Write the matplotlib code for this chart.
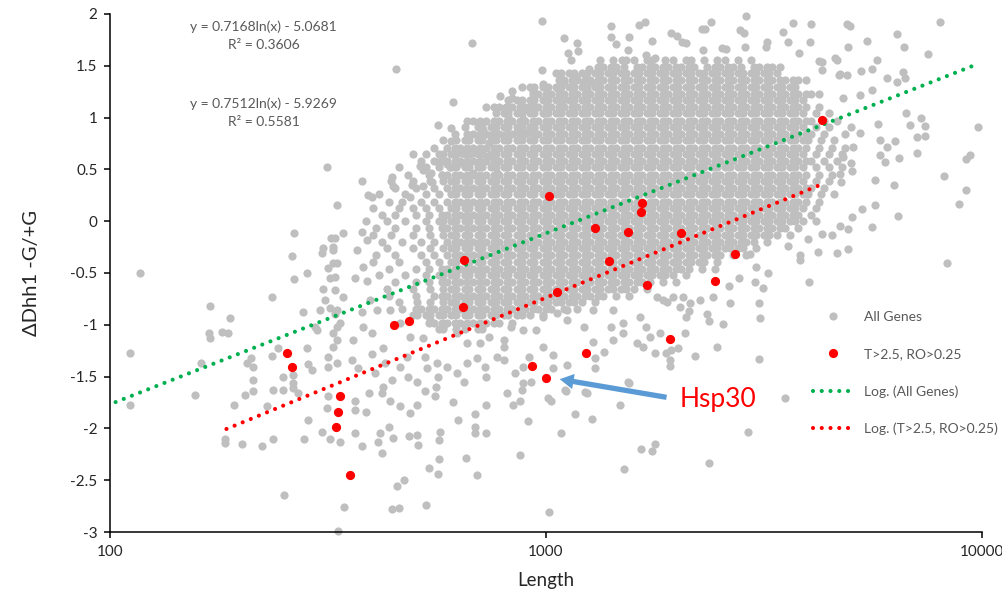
import numpy as np
import matplotlib
matplotlib.use("Agg")
import matplotlib.pyplot as plt
from matplotlib.lines import Line2D
from matplotlib.ticker import NullLocator

plt.rcParams['font.family'] = ['Lato', 'DejaVu Sans']

# ---- data ----
# dense core of "All Genes": one ratio level per row, lengths along that row
core_levels = [1.56, 1.49, 1.43, 1.36, 1.30, 1.23, 1.17, 1.10, 1.04, 0.97,
               0.91, 0.84, 0.78, 0.71, 0.65, 0.58, 0.52, 0.45, 0.39, 0.32,
               0.26, 0.19, 0.13, 0.06, 0.00, -0.07, -0.13, -0.20, -0.26, -0.33,
               -0.39, -0.46, -0.52, -0.59, -0.65, -0.72, -0.78, -0.85, -0.91, -0.98,
               -1.04]
core_lengths = [
    "1327 1422 1523 1590 1703 1748 1871 1954 2093 2147 2300 2463 2572 2755 2951",
    "1314 1352 1408 1449 1508 1615 1662 1730 1780 1852 1906 1985 2042 2125 2187 2343 2438 2509 2612 2688 2797 2996 3084 3210 3303 3438",
    "1053 1080 1128 1157 1208 1239 1294 1327 1386 1422 1485 1523 1590 1631 1703 1748 1824 1871 1954 2005 2093 2147 2241 2300 2401 2463 2572 2639 2755 2826 2951 3027 3161 3242 3385",
    "1069 1100 1145 1178 1227 1263 1314 1352 1408 1449 1508 1551 1615 1662 1730 1780 1852 1906 1985 2042 2125 2187 2277 2343 2438 2509 2612 2688 2797 2879 2996 3084 3210 3303 3438 3538 3683 3789 3945",
    "879 918 941 983 1008 1053 1080 1128 1157 1208 1239 1294 1327 1386 1422 1485 1523 1590 1631 1703 1748 1824 1871 1954 2005 2093 2147 2241 2300 2401 2463 2572 2639 2755 2826 2951 3027 3161 3242 3385 3474 3626 3721",
    "932 959 998 1027 1069 1100 1145 1178 1227 1263 1314 1352 1408 1449 1508 1551 1615 1662 1730 1780 1852 1906 1985 2042 2125 2187 2277 2343 2438 2509 2612 2688 2797 2879 2996 3084 3210 3303 3438 3538 3683 3789 3945 4059 4225",
    "820 857 879 918 941 983 1008 1053 1080 1128 1157 1208 1239 1294 1327 1386 1422 1485 1523 1590 1631 1703 1748 1824 1871 1954 2005 2093 2147 2241 2300 2401 2463 2572 2639 2755 2826 2951 3027 3161 3242 3385 3474 3626 3721 3884",
    "729 758 780 812 836 870 895 932 959 998 1027 1069 1100 1145 1178 1227 1263 1314 1352 1408 1449 1508 1551 1615 1662 1730 1780 1852 1906 1985 2042 2125 2187 2277 2343 2438 2509 2612 2688 2797 2879 2996 3084 3210 3303 3438 3538 3683 3789 3945 4225",
    "766 799 820 857 879 918 941 983 1008 1053 1080 1128 1157 1208 1239 1294 1327 1386 1422 1485 1523 1590 1631 1703 1748 1824 1871 1954 2005 2093 2147 2241 2300 2401 2463 2572 2639 2755 2826 2951 3027 3161 3242 3385 3474 3626 3721 3884 4160 4456",
    "660 680 707 729 758 780 812 836 870 895 932 959 998 1027 1069 1100 1145 1178 1227 1263 1314 1352 1408 1449 1508 1551 1615 1662 1730 1780 1852 1906 1985 2042 2125 2187 2277 2343 2438 2509 2612 2688 2797 2879 2996 3084 3210 3303 3438 3538 3683 3789 3945 4059 4347 4656",
    "651 697 715 747 766 799 820 857 879 918 941 983 1008 1053 1080 1128 1157 1208 1239 1294 1327 1386 1422 1485 1523 1590 1631 1703 1748 1824 1871 1954 2005 2093 2147 2241 2300 2401 2463 2572 2639 2755 2826 2951 3027 3161 3242 3385 3474 3626 3721 3884 4160 4456",
    "617 660 680 707 729 758 780 812 836 870 895 932 959 998 1027 1069 1100 1145 1178 1227 1263 1314 1352 1408 1449 1508 1551 1615 1662 1730 1780 1852 1906 1985 2042 2125 2187 2277 2343 2438 2509 2612 2688 2797 2879 2996 3084 3210 3303 3438 3538 3683 3789 3945 4059 4347 4847",
    "581 623 651 667 697 715 747 766 799 820 857 879 918 941 983 1008 1053 1080 1128 1157 1208 1239 1294 1327 1386 1422 1485 1523 1590 1631 1703 1748 1824 1871 1954 2005 2093 2147 2241 2300 2401 2463 2572 2639 2755 2826 2951 3027 3161 3242 3385 3474 3626 3721 3884 3985 4268 4572",
    "554 593 617 635 660 680 707 729 758 780 812 836 870 895 932 959 998 1027 1069 1100 1145 1178 1227 1263 1314 1352 1408 1449 1508 1551 1615 1662 1730 1780 1852 1906 1985 2042 2125 2187 2277 2343 2438 2509 2612 2688 2797 2879 2996 3084 3210 3303 3438 3538 3683 3789 3945 4225 4526 4847",
    "495 530 567 581 607 623 651 667 697 715 747 766 799 820 857 879 918 941 983 1008 1053 1080 1128 1157 1208 1239 1294 1327 1386 1422 1485 1523 1590 1631 1703 1748 1824 1871 1954 2005 2093 2147 2241 2300 2401 2463 2572 2639 2755 2826 2951 3027 3161 3242 3385 3474 3626 3721 3884 4160 4456 4773",
    "517 554 576 593 617 635 660 680 707 729 758 780 812 836 870 895 932 959 998 1027 1069 1100 1145 1178 1227 1263 1314 1352 1408 1449 1508 1551 1615 1662 1730 1780 1852 1906 1985 2042 2125 2187 2277 2343 2438 2509 2612 2688 2797 2879 2996 3084 3210 3303 3438 3538 3683 3789 3945 4059 4347 4656",
    "461 530 567 607 623 651 667 697 715 747 766 799 820 857 879 918 941 983 1008 1053 1080 1128 1157 1208 1239 1294 1327 1386 1422 1485 1523 1590 1631 1703 1748 1824 1871 1954 2005 2093 2147 2241 2300 2401 2463 2572 2639 2755 2826 2951 3027 3161 3242 3385 3474 3626 3721 3884 4160 4456 4773",
    "482 538 576 593 617 635 660 680 707 729 758 780 812 836 870 895 932 959 998 1027 1069 1100 1145 1178 1227 1263 1314 1352 1408 1449 1508 1551 1615 1662 1730 1780 1852 1906 1985 2042 2125 2187 2277 2343 2438 2509 2612 2688 2797 2879 2996 3084 3210 3303 3438 3538 3683 3789 3945 4225 4526",
    "442 495 543 581 607 623 651 667 697 715 747 766 799 820 857 879 918 941 983 1008 1053 1080 1128 1157 1208 1239 1294 1327 1386 1422 1485 1523 1590 1631 1703 1748 1824 1871 1954 2005 2093 2147 2241 2300 2401 2463 2572 2639 2755 2826 2951 3027 3161 3242 3385 3474 3626 3721 3884 4160 4456",
    "451 502 554 593 617 635 660 680 707 729 758 780 812 836 870 895 932 959 998 1027 1069 1100 1145 1178 1227 1263 1314 1352 1408 1449 1508 1551 1615 1662 1730 1780 1852 1906 1985 2042 2125 2187 2277 2343 2438 2509 2612 2688 2797 2879 2996 3084 3210 3303 3438 3538 3683 3789 3945 4059 4347",
    "413 474 530 567 607 623 651 667 697 715 747 766 799 820 857 879 918 941 983 1008 1053 1080 1128 1157 1208 1239 1294 1327 1386 1422 1485 1523 1590 1631 1703 1748 1824 1871 1954 2005 2093 2147 2241 2300 2401 2463 2572 2639 2755 2826 2951 3027 3161 3242 3385 3474 3626 3721 3884 3985 4268 4572",
    "437 468 517 554 593 617 635 660 680 707 729 758 780 812 836 870 895 932 959 998 1027 1069 1100 1145 1178 1227 1263 1314 1352 1408 1449 1508 1551 1615 1662 1730 1780 1852 1906 1985 2042 2125 2187 2277 2343 2438 2509 2612 2688 2797 2879 2996 3084 3210 3303 3438 3538 3683 3789 3945 4225",
    "402 461 495 530 567 607 623 651 667 697 715 747 766 799 820 857 879 918 941 983 1008 1053 1080 1128 1157 1208 1239 1294 1327 1386 1422 1485 1523 1590 1631 1703 1748 1824 1871 1954 2005 2093 2147 2241 2300 2401 2463 2572 2639 2755 2826 2951 3027 3161 3242 3385 3474 3626 3721 3884 4160",
    "420 451 502 538 576 593 617 635 660 680 707 729 758 780 812 836 870 895 932 959 998 1027 1069 1100 1145 1178 1227 1263 1314 1352 1408 1449 1508 1551 1615 1662 1730 1780 1852 1906 1985 2042 2125 2187 2277 2343 2438 2509 2612 2688 2797 2879 2996 3084 3210 3303 3438 3538 3683 3789 4059",
    "386 431 474 530 567 581 607 623 651 667 697 715 747 766 799 820 857 879 918 941 983 1008 1053 1080 1128 1157 1208 1239 1294 1327 1386 1422 1485 1523 1590 1631 1703 1748 1824 1871 1954 2005 2093 2147 2241 2300 2401 2463 2572 2639 2755 2826 2951 3027 3161 3242 3385 3474 3626 3721 3884 4160",
    "408 451 502 538 576 593 617 635 660 680 707 729 758 780 812 836 870 895 932 959 998 1027 1069 1100 1145 1178 1227 1263 1314 1352 1408 1449 1508 1551 1615 1662 1730 1780 1852 1906 1985 2042 2125 2187 2277 2343 2438 2509 2612 2688 2797 2879 2996 3084 3210 3303 3438 3538 3789",
    "402 442 495 543 581 607 623 651 667 697 715 747 766 799 820 857 879 918 941 983 1008 1053 1080 1128 1157 1208 1239 1294 1327 1386 1422 1485 1523 1590 1631 1703 1748 1824 1871 1954 2005 2093 2147 2241 2300 2401 2463 2572 2639 2755 2826 2951 3027 3161 3242 3385 3626",
    "420 468 517 554 593 617 635 660 680 707 729 758 780 812 836 870 895 932 959 998 1027 1069 1100 1145 1178 1227 1263 1314 1352 1408 1449 1508 1551 1615 1662 1730 1780 1852 1906 1985 2042 2125 2187 2277 2343 2438 2509 2612 2688 2797 2879 2996 3210",
    "431 495 543 581 607 623 651 667 697 715 747 766 799 820 857 879 918 941 983 1008 1053 1080 1128 1157 1208 1239 1294 1327 1386 1422 1485 1523 1590 1631 1703 1748 1824 1871 1954 2005 2093 2147 2241 2300 2401 2463 2572 2639 2755 2826 3027",
    "408 451 517 554 593 617 635 660 680 707 729 758 780 812 836 870 895 932 959 998 1027 1069 1100 1145 1178 1227 1263 1314 1352 1408 1449 1508 1551 1615 1662 1730 1780 1852 1906 1985 2042 2125 2187 2277 2343 2438 2509 2688 2879",
    "402 461 530 567 607 623 651 667 697 715 747 766 799 820 857 879 918 941 983 1008 1053 1080 1128 1157 1208 1239 1294 1327 1386 1422 1485 1523 1590 1631 1703 1748 1824 1871 1954 2005 2093 2147 2241 2300 2463",
    "437 502 538 576 593 617 635 660 680 707 729 758 780 812 836 870 895 932 959 998 1027 1069 1100 1145 1178 1227 1263 1314 1352 1408 1449 1508 1551 1615 1662 1730 1780 1852 1906 1985 2042 2125 2277 2438",
    "413 474 530 567 581 607 623 651 667 697 715 747 766 799 820 857 879 918 941 983 1008 1053 1080 1128 1157 1208 1239 1294 1327 1386 1422 1485 1523 1590 1631 1703 1748 1824 1871 1954 2093",
    "451 502 538 576 593 617 635 660 680 707 729 758 780 812 836 870 895 932 959 998 1027 1069 1100 1145 1178 1227 1263 1314 1352 1408 1449 1508 1551 1615 1662 1730 1852 1985",
    "431 495 543 581 607 623 651 667 697 715 747 766 799 820 857 879 918 941 983 1008 1053 1080 1128 1157 1208 1239 1294 1327 1386 1422 1485 1523 1590 1703",
    "437 502 554 576 593 617 635 660 680 707 729 758 780 812 836 870 895 932 959 998 1027 1069 1100 1145 1178 1227 1263 1314 1352 1449 1551",
    "461 507 543 581 607 623 651 667 697 715 747 766 799 820 857 879 918 941 983 1008 1053 1080 1128 1157 1208 1294",
    "468 502 517 538 554 576 593 617 635 660 680 707 729 758 780 812 836 870 895 932 959 998 1027 1100 1178",
    "495 507 530 543 567 581 607 623 651 667 697 715 747 766 799 820 857 879 918 983",
    "538 554 576 593 617 635 660 680 707 729 758 780 836",
    "567 581 623 651 697 715",
]

# scattered "All Genes" points outside the dense core: (length, ratio)
spread_pts = [
    (315, 0.52), (332, 0.16), (264, -0.11), (261, -0.34), (264, -0.56), (283, -0.50),
    (117, -0.50), (111, -1.27), (235, -0.73), (170, -0.82), (169, -1.08), (170, -1.13),
    (181, -1.07), (186, -1.08), (188, -0.93), (162, -1.37), (206, -1.37), (211, -1.32),
    (213, -1.41), (213, -1.53), (235, -1.30), (243, -1.22), (249, -1.50), (263, -1.48),
    (263, -1.56), (277, -0.88), (283, -1.22), (285, -1.38), (290, -1.44), (295, -1.02),
    (298, -1.05), (307, -0.31), (308, -0.26), (316, -0.45), (319, -0.55), (308, -0.65),
    (311, -0.76), (303, -0.86), (319, -0.84), (322, -0.16), (324, -0.25), (324, -0.40),
    (328, -0.66), (328, -0.90), (331, -1.02), (331, -1.15), (324, -1.21), (316, -1.31),
    (316, -1.41), (331, -1.37), (237, -1.63), (249, -1.63), (263, -1.61), (270, -1.66),
    (157, -1.68), (204, -1.68), (111, -1.77), (192, -1.77), (213, -1.64), (229, -1.78),
    (316, -1.69), (315, -1.80), (285, -1.92), (307, -2.03), (319, -2.10), (279, -2.10),
    (237, -2.10), (223, -2.17), (201, -2.15), (184, -2.10), (184, -2.14), (251, -2.64),
    (334, -2.99), (337, -2.13), (344, -2.76), (378, -2.17), (364, -2.04), (386, -1.84),
    (364, -1.74), (364, -1.82), (392, -1.66), (420, -1.66), (423, -1.60), (439, -1.74),
    (463, -1.78), (488, -1.85), (506, -1.77), (527, -1.64), (560, -1.60), (557, -1.69),
    (611, -1.75), (416, -2.04), (437, -1.99), (446, -2.09), (412, -2.13), (420, -2.24),
    (485, -2.07), (506, -2.06), (509, -2.16), (571, -2.03), (568, -2.11), (568, -2.30),
    (539, -2.38), (565, -2.44), (473, -2.50), (455, -2.56), (443, -2.78), (460, -2.77),
    (531, -2.74), (627, -1.92), (655, -2.29), (693, -2.45), (689, -1.86), (689, -1.99),
    (689, -2.04), (730, -2.04), (727, -1.77), (816, -1.66), (838, -1.77), (870, -1.74),
    (882, -1.63), (910, -1.93), (870, -2.26), (1012, -1.71), (1027, -1.74), (1016, -2.81),
    (1084, -2.04), (1110, -1.64), (1166, -1.86), (1273, -1.91), (1239, -1.66), (1478, -1.77),
    (1548, -1.56), (1510, -2.39), (1652, -2.20), (1753, -2.22), (1776, -2.15), (3530, -1.71),
    (2906, -2.03), (2369, -2.33),
    (8850, 0.17), (6430, 0.05), (5580, -0.06), (4940, -0.08), (5320, 0.12), (5670, 0.16),
    (5020, 0.04), (4720, -0.05), (4520, -0.13), (4300, -0.12), (4940, -0.27), (4660, -0.31),
    (4210, -0.30), (3980, -0.17), (3830, -0.33), (3830, -0.37), (3590, -0.24), (8300, -0.40),
    (4010, -0.59), (3230, -0.50), (3030, -0.44), (2940, -0.32), (3150, -0.64), (3010, -0.59),
    (3080, -0.79), (3100, -0.93), (2770, -0.55), (2630, -0.63), (2640, -0.79), (2540, -0.99),
    (2340, -0.90), (2370, -0.96), (2470, -1.21), (2200, -1.30), (2080, -1.08), (2010, -1.22),
    (1930, -1.24), (1920, -1.34), (1920, -1.40), (3080, -1.33), (2130, -0.87), (2250, -0.76),
    (2060, -0.73), (1960, -0.73), (1890, -0.78),
    (2870, 1.98), (2390, 1.92), (2280, 1.86), (3680, 1.91), (4060, 1.90), (4980, 1.88),
    (8000, 1.92), (6400, 1.81), (6630, 1.68), (5440, 1.74), (4940, 1.68), (7500, 1.61),
    (5750, 1.56), (5270, 1.45), (5600, 1.47), (4910, 1.41), (4690, 1.41), (4590, 1.58),
    (4290, 1.54), (4290, 1.46), (6050, 1.38), (6400, 1.34), (6600, 1.44), (6670, 1.38),
    (5600, 1.27), (5250, 1.22), (4810, 1.19), (6700, 1.04), (7240, 1.00), (6840, 0.93),
    (7400, 0.92), (7400, 0.82), (7100, 0.81), (9800, 0.91), (5770, 0.94), (5250, 0.85),
    (5000, 0.91), (5850, 0.78), (6050, 0.72), (6330, 0.77), (5850, 0.64), (6000, 0.57),
    (6460, 0.61), (7100, 0.66), (5670, 0.40), (6270, 0.35), (8180, 0.44), (9200, 0.30),
    (9390, 0.64), (9200, 0.60), (5040, 0.48), (5000, 0.56), (4810, 0.62), (5070, 0.72),
    (4760, 0.38), (4720, 0.46),
    (978, 1.93), (677, 1.72), (452, 1.47), (612, 1.15), (565, 0.93), (604, 0.90),
    (604, 0.77), (1100, 1.77), (1180, 1.72), (1185, 1.64), (1125, 1.62), (1144, 1.56),
    (1410, 1.88), (1410, 1.78), (1450, 1.71), (978, 1.46), (985, 1.32), (1000, 1.20),
    (934, 1.26), (1067, 1.28), (1102, 1.34), (1170, 1.39), (1254, 1.47), (1216, 1.34),
    (1265, 1.34), (1240, 1.27), (1165, 1.23), (1093, 1.17), (785, 1.21), (837, 1.26),
    (810, 1.10), (818, 1.02), (837, 1.19), (885, 1.07), (916, 1.10), (885, 0.99),
    (990, 1.04), (940, 0.90), (717, 0.88), (717, 0.83), (749, 0.83), (800, 0.83),
    (856, 0.86), (680, 0.66), (641, 0.66), (670, 0.67), (736, 0.63), (635, 0.56),
    (594, 0.55), (565, 0.57), (602, 0.52), (514, 0.53), (522, 0.49), (546, 0.47),
    (576, 0.45), (680, 0.47), (443, 0.43), (446, 0.34), (493, 0.35), (522, 0.34),
    (549, 0.38), (756, 0.54), (772, 0.47), (814, 0.52), (742, 0.75), (804, 0.81),
    (908, 0.86), (378, 0.39), (390, 0.25), (400, 0.23), (488, 0.23),
    (1690, 1.92), (1635, 1.89), (2310, 1.86), (1550, 1.78), (1940, 1.82), (2000, 1.79),
    (2090, 1.72), (2780, 1.85), (2840, 1.82), (3500, 1.83), (3590, 1.73), (3220, 1.73),
    (4030, 1.73), (1750, 1.74), (4890, 1.90), (1540, 1.65), (1700, 1.60), (1780, 1.58),
    (2290, 1.65), (2530, 1.67), (2590, 1.66), (2860, 1.68), (3190, 1.68), (3810, 1.62),
    (4230, 1.55), (4640, 1.56), (1490, 1.56), (1440, 1.46), (4720, 1.42), (2050, 1.73),
    (342, -0.11), (328, -0.16), (324, -0.28), (331, -0.40), (328, -0.54), (342, -0.73),
    (331, -0.86), (337, -0.98), (324, -1.08), (361, -1.15), (359, -1.34), (370, -1.42),
    (378, -0.10), (368, -0.28), (388, -0.18), (380, -0.44), (364, -0.55), (388, -0.58),
    (395, -0.76), (378, -0.88), (409, -0.86), (380, -1.02), (400, -1.08), (400, -1.28),
    (423, -1.22), (428, -1.37), (405, -1.47), (443, -1.53), (463, -1.41), (482, -1.50),
    (506, -1.55), (480, -1.31), (527, -1.31), (534, -1.42), (563, -1.37), (565, -1.50),
    (594, -1.41), (626, -1.47), (650, -1.55), (658, -1.37), (693, -1.32), (723, -1.41),
    (730, -1.50), (771, -1.31), (802, -1.21), (802, -1.34), (848, -1.47), (885, -1.56),
    (885, -1.41), (926, -1.55), (916, -1.31), (983, -1.21), (1035, -1.29), (1035, -1.42),
    (1120, -1.39), (1107, -1.63), (1230, -1.65), (1298, -1.42), (1298, -1.32), (1285, -1.17),
    (1360, -1.26), (1423, -1.15), (1500, -1.08), (1413, -1.02), (1540, -1.55), (1620, -1.18),
    (1670, -1.21), (1730, -1.12), (1822, -1.08), (1775, -1.27), (1883, -1.27), (1853, -0.76),
    (1285, -0.86), (1423, -0.86), (1500, -0.98), (1640, -0.92), (1700, -1.02), (1800, -0.73),
    (2030, -0.83), (2140, -0.79), (2100, -0.92), (2420, -0.73), (1120, -0.86), (1120, -0.95),
    (1220, -1.02), (1060, -0.89), (983, -0.92), (950, -1.05), (885, -1.05), (830, -1.02),
    (800, -1.15), (742, -1.12), (706, -1.18), (658, -1.18), (626, -1.08), (580, -1.02),
    (542, -0.95), (522, -1.13), (488, -1.12), (463, -0.98), (439, -0.86),
]

# "T>2.5, RO>0.25" genes
flag_len = [255, 262, 337, 333, 330, 355, 448, 485, 645, 648, 929, 1000, 1060,
            1235, 1295, 1395, 1542, 1652, 1661, 1705, 1925, 1016, 2040, 2442, 2714, 4295]
flag_val = [-1.27, -1.41, -1.69, -1.84, -1.99, -2.45, -1.00, -0.96, -0.83, -0.37,
            -1.40, -1.51, -0.68, -1.27, -0.07, -0.38, -0.10, 0.09, 0.18, -0.62,
            -1.14, 0.24, -0.11, -0.58, -0.32, 0.98]

# logarithmic trendlines as given on the chart: y = a ln(x) + b, R^2
fit_all = (0.7168, -5.0681, 0.3606)
fit_flag = (0.7512, -5.9269, 0.5581)
fit_all_span = (103, 9700)
fit_flag_span = (185, 4230)

y_ticks = [2, 1.5, 1, 0.5, 0, -0.5, -1, -1.5, -2, -2.5, -3]
y_tick_labels = ['2', '1.5', '1', '0.5', '0', '-0.5', '-1', '-1.5', '-2', '-2.5', '-3']
x_ticks = [100, 1000, 10000]
x_tick_labels = ['100', '1000', '10000']

# ---- styling ----
GREY = '#BFBFBF'
RED = '#FF0000'
GREEN = '#00B050'
BLUE = '#5B9BD5'
TXT = '#595959'
AX_TXT = '#262626'

fig = plt.figure(figsize=(10.03, 5.92), dpi=100)
ax = fig.add_axes([110 / 1003, 1 - 532 / 592, 872 / 1003, 518 / 592])

core_x = []
core_y = []
for lvl, row in zip(core_levels, core_lengths):
    vals = [float(v) for v in row.split()]
    core_x += vals
    core_y += [lvl] * len(vals)

spread = np.array(spread_pts)
all_x = np.concatenate([core_x, spread[:, 0]])
all_y = np.concatenate([core_y, spread[:, 1]])

ax.scatter(all_x, all_y, s=35, color=GREY, linewidths=0, zorder=2, clip_on=False)

dot_style = dict(linewidth=3.0, linestyle=(0, (0.001, 2.1)), dash_capstyle='round')


def draw_fit(fit, span, color):
    xs = np.geomspace(span[0], span[1], 300)
    ys = fit[0] * np.log(xs) + fit[1]
    ax.plot(xs, ys, color=color, zorder=3, **dot_style)


draw_fit(fit_all, fit_all_span, GREEN)
draw_fit(fit_flag, fit_flag_span, RED)

ax.scatter(flag_len, flag_val, s=44, color=RED, linewidths=0, zorder=4)

ax.set_xscale('log')
ax.set_xlim(100, 10000)
ax.set_ylim(-3, 2)
ax.set_xticks(x_ticks, labels=x_tick_labels)
ax.xaxis.set_minor_locator(NullLocator())
ax.set_yticks(y_ticks, labels=y_tick_labels)

for side in ['top', 'right']:
    ax.spines[side].set_visible(False)
for side in ['left', 'bottom']:
    ax.spines[side].set_color('black')
    ax.spines[side].set_linewidth(1.1)
ax.tick_params(axis='both', direction='out', length=4, width=1.1, color='black',
               labelsize=11, labelcolor=AX_TXT, pad=5)

ax.set_xlabel('Length', fontsize=13.5, color=AX_TXT, labelpad=10)
ax.set_ylabel('ΔDhh1 -G/+G', fontsize=14.5, color=AX_TXT, labelpad=22)

# equation labels
ax.text(0.176, 0.976, 'y = %.4fln(x) - %.4f' % (fit_all[0], -fit_all[1]),
        transform=ax.transAxes, ha='center', va='center', fontsize=10, color=TXT)
ax.text(0.176, 0.941, 'R² = %.4f' % fit_all[2],
        transform=ax.transAxes, ha='center', va='center', fontsize=10, color=TXT)
ax.text(0.176, 0.826, 'y = %.4fln(x) - %.4f' % (fit_flag[0], -fit_flag[1]),
        transform=ax.transAxes, ha='center', va='center', fontsize=10, color=TXT)
ax.text(0.176, 0.791, 'R² = %.4f' % fit_flag[2],
        transform=ax.transAxes, ha='center', va='center', fontsize=10, color=TXT)

# Hsp30 callout
ax.annotate('', xy=(1075, -1.525), xytext=(1890, -1.70),
            arrowprops=dict(arrowstyle='simple,head_width=1.1,head_length=1.0,tail_width=0.38',
                            color=BLUE, lw=0, shrinkA=0, shrinkB=0), zorder=5)
ax.text(2030, -1.72, 'Hsp30', fontsize=19, color=RED, ha='left', va='center', zorder=5)

handles = [
    Line2D([], [], linestyle='none', marker='o', markersize=5.9, color=GREY, markeredgewidth=0),
    Line2D([], [], linestyle='none', marker='o', markersize=6.6, color=RED, markeredgewidth=0),
    Line2D([], [], color=GREEN, **dot_style),
    Line2D([], [], color=RED, **dot_style),
]
labels = ['All Genes', 'T>2.5, RO>0.25', 'Log. (All Genes)', 'Log. (T>2.5, RO>0.25)']
ax.legend(handles, labels, loc='upper left', bbox_to_anchor=(0.806, 0.427),
          frameon=False, fontsize=10, labelcolor=TXT, handlelength=2.9,
          handletextpad=0.75, labelspacing=1.81, borderpad=0, borderaxespad=0)

fig.savefig('out.png', dpi=100)
